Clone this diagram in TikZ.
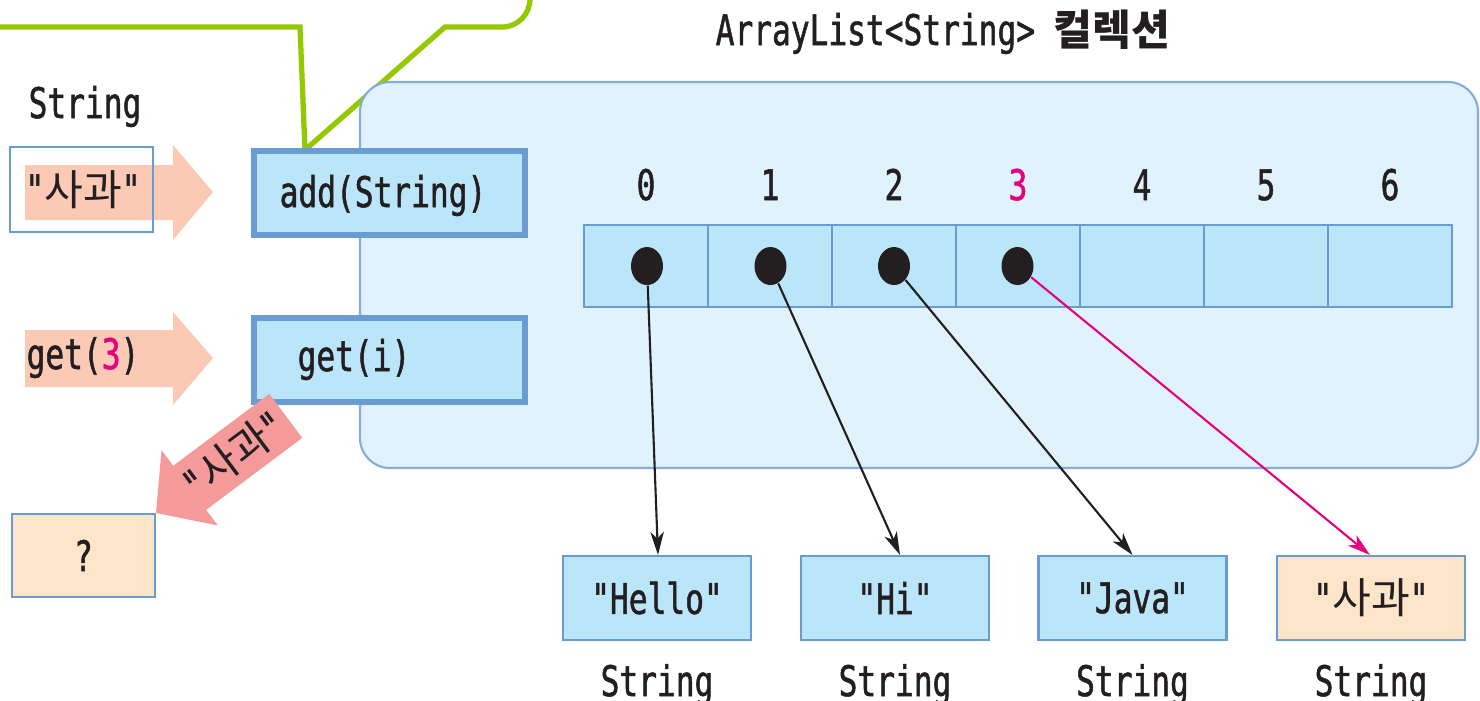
\documentclass[tikz,border=0pt]{standalone}
\usepackage{fontspec}
\setmainfont{DejaVu Sans Mono}[FakeStretch=0.74, FakeBold=1.2, Ligatures=TeXOff]
\newfontfamily\ko{Noto Sans CJK KR}
\usetikzlibrary{arrows.meta,shapes.geometric}
\definecolor{txt}{HTML}{231F20}
\definecolor{lblue}{HTML}{BBE5F8}
\definecolor{bordblue}{HTML}{6A9BD1}
\definecolor{contfill}{HTML}{E0F2FC}
\definecolor{contbord}{HTML}{86ADDA}
\definecolor{peach}{HTML}{FDE5CA}
\definecolor{salmon}{HTML}{FCC9B5}
\definecolor{retred}{HTML}{F49A9A}
\definecolor{mag}{HTML}{E5007F}
\definecolor{callgreen}{HTML}{96C800}
\begin{document}
\begin{tikzpicture}[x=1cm,y=1cm,
  every node/.style={font=\fontsize{12}{14}\selectfont, text=txt},
  lbl/.style={anchor=base, inner sep=0pt},
  thinbox/.style={draw=bordblue, line width=0.6pt, inner sep=0pt},
  methodbox/.style={draw=bordblue, line width=1.7pt, fill=lblue, minimum width=2.71cm, minimum height=0.84cm, inner sep=0pt},
  cell/.style={draw=bordblue, line width=0.6pt, fill=lblue, minimum width=1.24cm, minimum height=0.82cm, inner sep=0pt},
  dot/.style={ellipse, fill=txt, minimum width=0.32cm, minimum height=0.38cm, inner sep=0pt},
  strbox/.style={thinbox, minimum width=1.88cm, minimum height=0.84cm},
  ref/.style={-{Stealth[length=6.5pt,width=3.8pt,inset=1.8pt]}, line width=0.6pt},
]
\useasboundingbox (0,0) rectangle (14.8,-7);
\clip (0,0) rectangle (14.8,-7);

% callout
\draw[callgreen, line width=1.5pt, line join=miter, fill=white]
  (-0.2,-0.27) -- (3.00,-0.27) -- (3.05,-1.50) -- (4.45,-0.27) -- (5.02,-0.27)
  arc[start angle=-90, end angle=0, radius=0.28] -- (5.30,0.2);

% container
\draw[contbord, fill=contfill, line width=0.6pt, rounded corners=0.3cm]
  (3.60,-0.82) rectangle (14.78,-4.68);
\node[lbl] (title) at (9.43,-0.45) {ArrayList<String> {\ko\bfseries 컬렉션}};

% left side
\node[lbl] (strlbl) at (0.85,-1.18) {String};
\fill[salmon] (0.25,-1.65) -- (1.73,-1.65) -- (1.73,-1.45) -- (2.13,-1.92)
  -- (1.73,-2.40) -- (1.73,-2.20) -- (0.25,-2.20) -- cycle;
\node[thinbox, minimum width=1.43cm, minimum height=0.85cm] (apple) at (0.815,-1.895) {};
\node[lbl] (applelbl) at (0.83,-2.05) {"{\ko 사과}"};

\fill[salmon] (0.25,-3.30) -- (1.73,-3.30) -- (1.73,-3.12) -- (2.13,-3.58)
  -- (1.73,-4.05) -- (1.73,-3.87) -- (0.25,-3.87) -- cycle;
\node[lbl] (get3) at (0.83,-3.69) {get(\textcolor{mag}{3})};

\node[methodbox] (add) at (3.895,-1.93) {};
\node[lbl] (addlbl) at (3.83,-2.07) {add(String)};
\node[methodbox] (get) at (3.895,-3.595) {};
\node[lbl] (getlbl) at (3.54,-3.71) {get(i)};

\node[thinbox, fill=peach, minimum width=1.43cm, minimum height=0.83cm] (q) at (0.835,-5.555) {?};

% return arrow
\begin{scope}[shift={(q.north east)}, rotate=36.8]
  \fill[retred] (0,0) -- (0.42,0.47) -- (0.42,0.275) -- (1.62,0.275)
    -- (1.62,-0.275) -- (0.42,-0.275) -- (0.42,-0.47) -- cycle;
  \node[transform shape, inner sep=0pt] (retlbl) at (0.97,0.0) {"{\ko 사과}"};
\end{scope}

% array
\foreach \i in {0,...,6} {
  \node[cell] (c\i) at ({6.46+1.24*\i},-2.66) {};
}
\foreach \i in {0,1,2,4,5,6} {
  \node[lbl] (n\i) at ({6.46+1.24*\i},-2.00) {\i};
}
\node[lbl, text=mag] (n3) at (10.18,-2.00) {3};
\foreach \i in {0,...,3} {
  \node[dot] (d\i) at ({6.47+1.235*\i},-2.66) {};
}

% string objects
\node[strbox, fill=lblue] (s0) at (6.57,-5.98) {"Hello"};
\node[strbox, fill=lblue] (s1) at (8.95,-5.98) {"Hi"};
\node[strbox, fill=lblue] (s2) at (11.325,-5.98) {"Java"};
\node[strbox, fill=peach] (s3) at (13.71,-5.98) {"{\ko 사과}"};
\foreach \i in {0,...,3} {
  \node[lbl] (t\i) at ([yshift=-0.55cm]s\i.south) {String};
}

\draw[ref, txt] (d0) -- ([xshift=0.01cm]s0.north);
\draw[ref, txt] (d1) -- ([xshift=0.05cm]s1.north);
\draw[ref, txt] (d2) -- (s2.north);
\draw[ref, mag] (d3) -- ([xshift=-0.01cm]s3.north);
\end{tikzpicture}
\end{document}
